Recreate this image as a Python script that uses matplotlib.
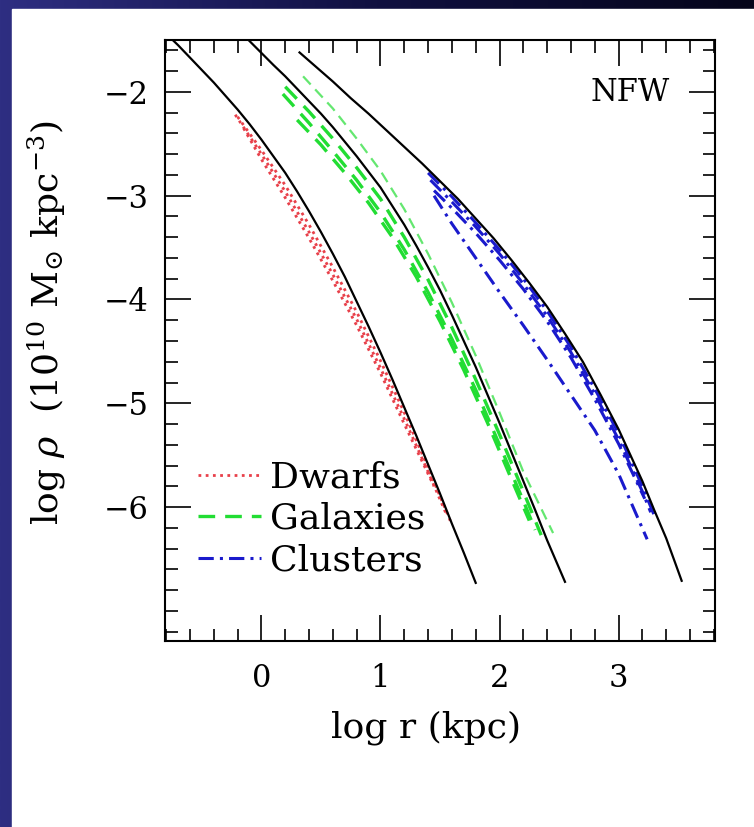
import matplotlib
matplotlib.use("Agg")
import matplotlib.pyplot as plt
import numpy as np
from matplotlib.patches import Rectangle

plt.rcParams['font.family'] = 'DejaVu Serif'
plt.rcParams['mathtext.fontset'] = 'dejavuserif'

# NFW fits (black solid)
dwarf_fit_x = [-0.8, -0.7, -0.6, -0.5, -0.4, -0.3, -0.2, -0.1, 0.0, 0.1, 0.2, 0.3, 0.4, 0.5, 0.6, 0.7,
               0.8, 0.9, 1.0, 1.1, 1.2, 1.3, 1.4, 1.5, 1.6, 1.7, 1.8]
dwarf_fit_y = [-1.44, -1.55, -1.67, -1.79, -1.91, -2.04, -2.17, -2.31, -2.46, -2.62, -2.78, -2.96, -3.15,
               -3.35, -3.56, -3.78, -4.02, -4.26, -4.51, -4.77, -5.04, -5.31, -5.59, -5.87, -6.16, -6.44, -6.73]

gal_fit_x = [-0.1, 0.0, 0.1, 0.2, 0.3, 0.4, 0.5, 0.6, 0.7, 0.8, 0.9, 1.0, 1.1, 1.2, 1.3, 1.4, 1.5,
             1.6, 1.7, 1.8, 1.9, 2.0, 2.1, 2.2, 2.3, 2.4, 2.55]
gal_fit_y = [-1.51, -1.625, -1.74, -1.85, -1.97, -2.09, -2.21, -2.34, -2.48, -2.62, -2.77, -2.92, -3.10,
             -3.28, -3.48, -3.69, -3.91, -4.15, -4.40, -4.65, -4.92, -5.19, -5.47, -5.75, -6.03, -6.32, -6.72]

clu_fit_x = [0.32, 0.45, 0.6, 0.75, 0.9, 1.05, 1.2, 1.35, 1.5, 1.65, 1.8, 1.95, 2.1, 2.25, 2.4, 2.55,
             2.7, 2.85, 3.0, 3.1, 3.2, 3.3, 3.4, 3.47, 3.53]
clu_fit_y = [-1.62, -1.75, -1.90, -2.06, -2.21, -2.37, -2.53, -2.69, -2.86, -3.03, -3.22, -3.41, -3.62,
             -3.84, -4.07, -4.33, -4.60, -4.92, -5.25, -5.50, -5.75, -6.03, -6.30, -6.52, -6.71]

# simulated halos
dwarfs = [
    ([-0.2, 0.0, 0.2, 0.4, 0.6, 0.8, 1.0, 1.2, 1.4, 1.6],
     [-2.24, -2.56, -2.90, -3.28, -3.69, -4.12, -4.59, -5.09, -5.62, -6.17]),
    ([-0.22, 0.0, 0.2, 0.4, 0.6, 0.8, 1.0, 1.2, 1.4, 1.55],
     [-2.22, -2.60, -2.96, -3.35, -3.76, -4.19, -4.66, -5.15, -5.66, -6.06]),
    ([-0.15, 0.0, 0.2, 0.4, 0.6, 0.8, 1.0, 1.2, 1.45],
     [-2.35, -2.65, -3.02, -3.41, -3.82, -4.25, -4.71, -5.20, -5.80]),
]

galaxies = [
    ([0.2, 0.4, 0.6, 0.8, 1.0, 1.2, 1.4, 1.6, 1.8, 2.0, 2.2, 2.35],
     [-1.95, -2.19, -2.45, -2.73, -3.03, -3.40, -3.81, -4.27, -4.77, -5.30, -5.85, -6.27]),
    ([0.18, 0.4, 0.6, 0.8, 1.0, 1.2, 1.4, 1.6, 1.8, 2.0, 2.2, 2.3],
     [-2.02, -2.30, -2.57, -2.85, -3.16, -3.52, -3.93, -4.38, -4.87, -5.40, -5.94, -6.22]),
    ([0.3, 0.5, 0.7, 0.9, 1.1, 1.3, 1.5, 1.7, 1.9, 2.1, 2.25],
     [-2.27, -2.51, -2.78, -3.07, -3.40, -3.78, -4.21, -4.68, -5.19, -5.73, -6.13]),
    ([0.35, 0.6, 0.8, 1.0, 1.2, 1.4, 1.6, 1.8, 2.0, 2.2, 2.45],
     [-1.85, -2.16, -2.45, -2.76, -3.13, -3.56, -4.03, -4.54, -5.09, -5.66, -6.25]),
]

clusters = [
    ([1.4, 1.6, 1.8, 2.0, 2.2, 2.4, 2.6, 2.8, 3.0, 3.2, 3.3],
     [-2.78, -3.01, -3.26, -3.52, -3.80, -4.11, -4.46, -4.86, -5.29, -5.80, -6.08]),
    ([1.42, 1.6, 1.8, 2.0, 2.2, 2.4, 2.6, 2.8, 3.0, 3.2, 3.27],
     [-2.85, -3.06, -3.30, -3.56, -3.85, -4.16, -4.51, -4.91, -5.35, -5.85, -6.05]),
    ([1.45, 1.6, 1.8, 2.0, 2.2, 2.4, 2.6, 2.8, 3.0, 3.22],
     [-2.95, -3.12, -3.36, -3.62, -3.90, -4.21, -4.56, -4.96, -5.39, -5.92]),
    ([1.45, 1.6, 1.8, 2.0, 2.2, 2.4, 2.6, 2.8, 3.0, 3.24],
     [-3.00, -3.27, -3.60, -3.93, -4.25, -4.58, -4.92, -5.26, -5.68, -6.31]),
]

xticks = [0, 1, 2, 3]
xticklabels = ['0', '1', '2', '3']
yticks = [-2, -3, -4, -5, -6]
yticklabels = ['\u22122', '\u22123', '\u22124', '\u22125', '\u22126']
legend_labels = ['Dwarfs', 'Galaxies', 'Clusters']

fig = plt.figure(figsize=(7.54, 8.27), dpi=100)

# slide background: dark blue strips on left and top, white panel
bg = fig.add_axes([0, 0, 1, 1], zorder=-10)
grad = np.linspace(0, 1, 256).reshape(1, -1)
bg.imshow(grad, extent=[0, 1, 0, 1], aspect='auto',
          cmap=matplotlib.colors.LinearSegmentedColormap.from_list('bg', ['#2e2e82', '#101040', '#05051a']))
bg.add_patch(Rectangle((12 / 754, 0), 1, 1 - 9 / 827, color='white'))
bg.set_xlim(0, 1)
bg.set_ylim(0, 1)
bg.axis('off')

ax = fig.add_axes([165 / 754, 1 - 641 / 827, 550 / 754, 601 / 827])

red = '#e8404a'
green = '#22dd33'
blue = '#1a1acc'

for i, (x, y) in enumerate(dwarfs):
    ax.plot(x, y, color=red, lw=2.0, ls=(0, (1, 1.6)), label=legend_labels[0] if i == 0 else None)
for i, (x, y) in enumerate(galaxies):
    ax.plot(x, y, color=green, lw=2.4 if i < 3 else 1.6, ls=(0, (5, 3)), alpha=1.0 if i < 3 else 0.7,
            label=legend_labels[1] if i == 0 else None)
for i, (x, y) in enumerate(clusters):
    ax.plot(x, y, color=blue, lw=2.2, ls=(0, (5, 2, 1, 2)), label=legend_labels[2] if i == 0 else None)

for fx, fy in [(dwarf_fit_x, dwarf_fit_y), (gal_fit_x, gal_fit_y), (clu_fit_x, clu_fit_y)]:
    ax.plot(fx, fy, color='black', lw=1.6, zorder=5)

ax.set_xlim(-0.81, 3.81)
ax.set_ylim(-7.29, -1.5)
ax.set_xticks(xticks)
ax.set_xticklabels(xticklabels, fontsize=22)
ax.set_yticks(yticks)
ax.set_yticklabels(yticklabels, fontsize=22)
ax.set_xticks(np.arange(-0.8, 3.81, 0.2), minor=True)
ax.set_yticks(np.arange(-7.2, -1.49, 0.2), minor=True)
ax.tick_params(which='both', direction='in', top=True, right=True, width=1.2)
ax.tick_params(axis='x', which='major', pad=16)
ax.tick_params(axis='y', which='major', pad=12)
ax.tick_params(which='major', length=19)
ax.tick_params(which='minor', length=9)
for s in ax.spines.values():
    s.set_linewidth(1.5)

ax.set_xlabel('log r (kpc)', fontsize=26, labelpad=14)
ax.xaxis.set_label_coords(0.475, -0.115)
ax.set_ylabel(r'log $\rho$  (10$^{10}$ M$_{\odot}$ kpc$^{-3}$)', fontsize=26)
ax.yaxis.set_label_coords(-0.177, 0.53)

ax.text(0.918, 0.913, 'NFW', transform=ax.transAxes, ha='right', va='center', fontsize=22)

ax.legend(loc='upper left', bbox_to_anchor=(0.06, 0.30), frameon=False, fontsize=26,
          handlelength=1.75, handletextpad=0.25, labelspacing=0.2, borderpad=0, borderaxespad=0)

fig.savefig('out.png', dpi=100)
